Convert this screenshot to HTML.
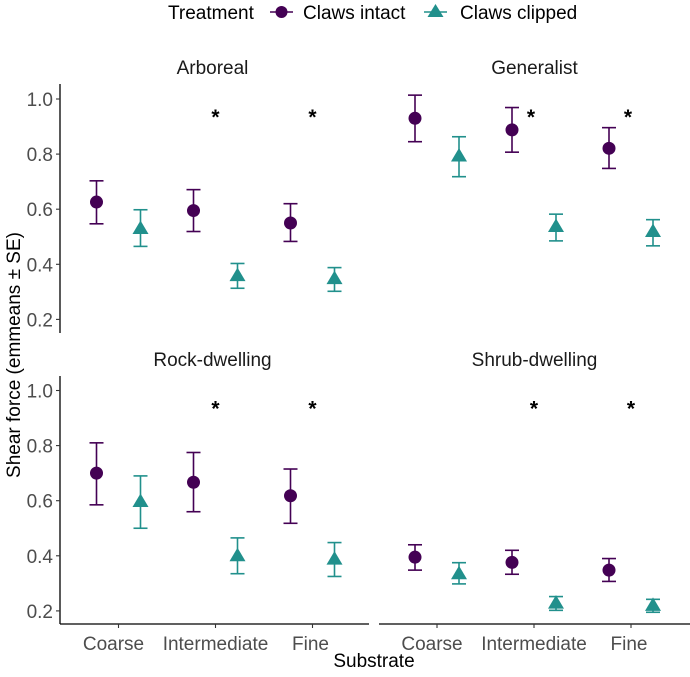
<!DOCTYPE html>
<html><head><meta charset="utf-8"><style>
body{margin:0;background:#fff;}
svg text{font-family:"Liberation Sans",Arial,sans-serif;}
</style></head><body>
<svg id="chart" width="690" height="672" viewBox="0 0 690 672" xmlns="http://www.w3.org/2000/svg"></svg>
<script>
const categories = ["Coarse","Intermediate","Fine"];
const panels = ["Arboreal","Generalist","Rock-dwelling","Shrub-dwelling"];
const intactMean = [[0.626,0.595,0.550],[0.930,0.888,0.821],[0.700,0.667,0.618],[0.395,0.376,0.348]];
const intactHi = [[0.703,0.671,0.620],[1.014,0.969,0.896],[0.810,0.775,0.715],[0.440,0.420,0.390]];
const intactLo = [[0.547,0.519,0.483],[0.845,0.807,0.748],[0.585,0.560,0.518],[0.348,0.333,0.307]];
const clipMean = [[0.530,0.359,0.348],[0.793,0.537,0.519],[0.597,0.400,0.388],[0.335,0.228,0.220]];
const clipHi = [[0.598,0.403,0.388],[0.863,0.582,0.562],[0.690,0.465,0.448],[0.375,0.252,0.242]];
const clipLo = [[0.465,0.313,0.302],[0.718,0.485,0.467],[0.500,0.335,0.325],[0.298,0.202,0.195]];
const stars = [[false,true,true],[false,true,true],[false,true,true],[false,true,true]];
const yTicks = [0.2,0.4,0.6,0.8,1.0];
const yTickLabels = ["0.2","0.4","0.6","0.8","1.0"];

const NS="http://www.w3.org/2000/svg";
const svg=document.getElementById('chart');
const PURPLE="#440154", TEAL="#21908C";
const FS='19';
function mk(tag,attrs,parent){const e=document.createElementNS(NS,tag);for(const k in attrs)e.setAttribute(k,attrs[k]);(parent||svg).appendChild(e);return e;}
const panelX=[{x0:60,x1:369,c0:118.5},{x0:379,x1:690,c0:437}];
const panelY=[{top:84,bot:333,y1:99},{top:376,bot:624,y1:390.5}];
const pxPerUnit=275.5;
function xScale(col,i){return panelX[col].c0+i*97;}
function yScale(row,v){return panelY[row].y1+(1-v)*pxPerUnit;}

panels.forEach((name,p)=>{
  const row=Math.floor(p/2), col=p%2;
  const g=mk('g',{});
  
  
  const t=mk('text',{x:(panelX[col].x0+panelX[col].x1)/2+(col==0?-2:0),y:panelY[row].top-10,'text-anchor':'middle','font-size':FS,fill:'#1a1a1a'},g);
  t.textContent=name;
  
  
  if(col==0){
    const ax=mk('line',{x1:60,x2:60,y1:panelY[row].top,y2:panelY[row].bot,stroke:'#000','stroke-width':1.3},g);
    
    
    yTicks.forEach((v,i)=>{
      const y=yScale(row,v);
      mk('line',{x1:56,x2:60,y1:y,y2:y,stroke:'#333','stroke-width':1.1},g);
      const tl=mk('text',{x:53,y:y+7,'text-anchor':'end','font-size':FS,fill:'#4d4d4d'},g);
      tl.textContent=yTickLabels[i];
      
      
    });
  }
  if(row==1){
    const xa=mk('line',{x1:panelX[col].x0,x2:panelX[col].x1,y1:624,y2:624,stroke:'#000','stroke-width':1.3},g);
    
    
    categories.forEach((c,i)=>{
      const x=xScale(col,i);
      mk('line',{x1:x,x2:x,y1:624,y2:628,stroke:'#333','stroke-width':1.1},g);
      const tl=mk('text',{x:x-(i==0?5:i==2?2:0),y:650,'text-anchor':'middle','font-size':FS,fill:'#4d4d4d'},g);
      tl.textContent=c;
      
      
    });
  }
  categories.forEach((c,i)=>{
    const xc=xScale(col,i);
    const xi=xc-22;
    const eb=mk('g',{stroke:PURPLE,'stroke-width':1.6,fill:'none'},g);
    
    
    const yh=yScale(row,intactHi[p][i]), yl=yScale(row,intactLo[p][i]);
    mk('line',{x1:xi,x2:xi,y1:yh,y2:yl},eb);
    mk('line',{x1:xi-7,x2:xi+7,y1:yh,y2:yh},eb);
    mk('line',{x1:xi-7,x2:xi+7,y1:yl,y2:yl},eb);
    const pt=mk('circle',{cx:xi,cy:yScale(row,intactMean[p][i]),r:6.5,fill:PURPLE},g);
    
    
    const xk=xc+22;
    const eb2=mk('g',{stroke:TEAL,'stroke-width':1.6,fill:'none'},g);
    
    
    const yh2=yScale(row,clipHi[p][i]), yl2=yScale(row,clipLo[p][i]);
    mk('line',{x1:xk,x2:xk,y1:yh2,y2:yl2},eb2);
    mk('line',{x1:xk-7,x2:xk+7,y1:yh2,y2:yh2},eb2);
    mk('line',{x1:xk-7,x2:xk+7,y1:yl2,y2:yl2},eb2);
    const ym=yScale(row,clipMean[p][i]);
    const tri=mk('polygon',{points:`${xk},${ym-8} ${xk-8},${ym+5.5} ${xk+8},${ym+5.5}`,fill:TEAL},g);
    
    
    if(stars[p][i]){
      const st=mk('text',{x:xc+(p==1?-3:0),y:yScale(row,0.95)+11,'text-anchor':'middle','font-size':'21','font-weight':'bold',fill:'#000'},g);
      st.textContent='*';
      
      
    }
  });
});
const yt=mk('text',{x:0,y:0,transform:'translate(20,355) rotate(-90)','text-anchor':'middle','font-size':FS,fill:'#000'});
yt.textContent='Shear force (emmeans ± SE)';


const xt=mk('text',{x:374,y:667,'text-anchor':'middle','font-size':FS,fill:'#000'});
xt.textContent='Substrate';


const lg=mk('g',{});


const lt=mk('text',{x:168,y:19,'font-size':FS,fill:'#000'},lg);
lt.textContent='Treatment';


const le1=mk('g',{},lg);


mk('line',{x1:270,x2:293,y1:12,y2:12,stroke:PURPLE,'stroke-width':1.6},le1);
mk('circle',{cx:281.5,cy:12,r:6,fill:PURPLE},le1);
const l1=mk('text',{x:303,y:19,'font-size':FS,fill:'#000'},le1);l1.textContent='Claws intact';
const le2=mk('g',{},lg);


mk('line',{x1:424,x2:447,y1:12,y2:12,stroke:TEAL,'stroke-width':1.6},le2);
mk('polygon',{points:'435.5,4 427.5,17 443.5,17',fill:TEAL},le2);
const l2=mk('text',{x:460,y:19,'font-size':FS,fill:'#000'},le2);l2.textContent='Claws clipped';
</script>
</body></html>
